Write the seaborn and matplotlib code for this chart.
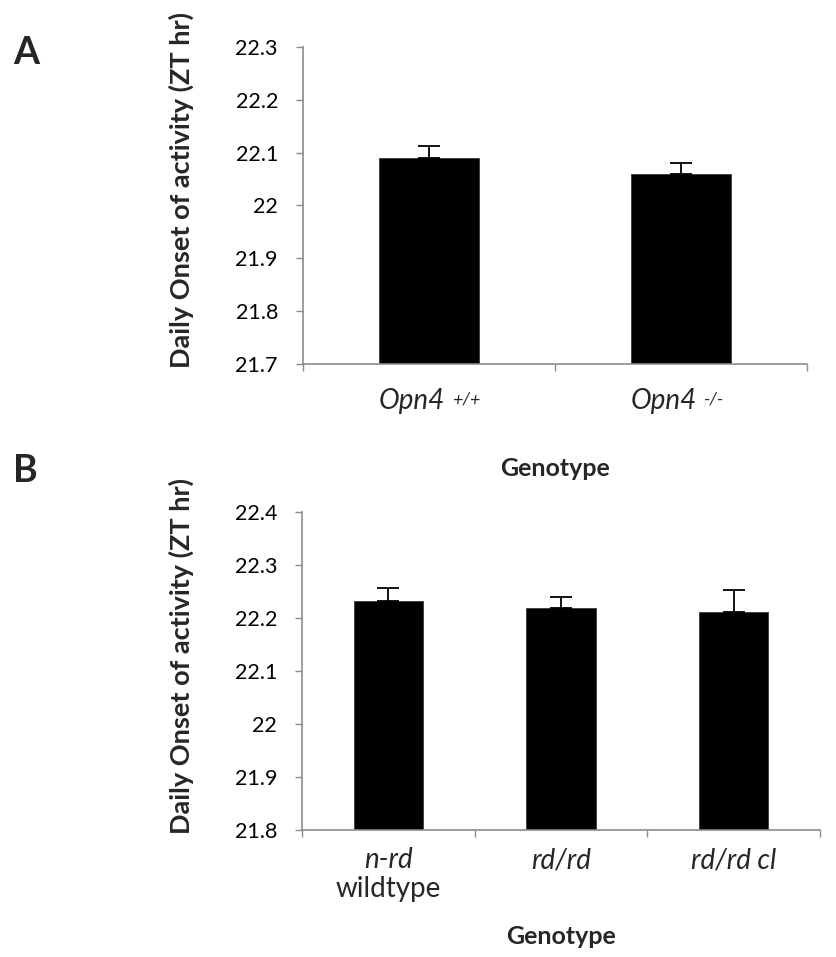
import matplotlib
matplotlib.use('Agg')
import matplotlib.pyplot as plt
import seaborn as sns
import pandas as pd
import numpy as np
from matplotlib.ticker import FixedLocator
from matplotlib.transforms import blended_transform_factory

sns.set_style('white')
plt.rcParams['font.family'] = ['Lato', 'DejaVu Sans']

# ---------------- data ----------------
a_genotypes = ['Opn4', 'Opn4']
a_superscripts = ['+/+', '-/-']
a_onset = [22.090, 22.059]
a_sem = [0.023, 0.021]
a_yticks = [21.7, 21.8, 21.9, 22.0, 22.1, 22.2, 22.3]
a_yticklabels = ['21.7', '21.8', '21.9', '22', '22.1', '22.2', '22.3']

b_genotypes = ['n-rd', 'rd/rd', 'rd/rd cl']
b_sublabels = ['wildtype', '', '']
b_onset = [22.232, 22.218, 22.211]
b_sem = [0.024, 0.021, 0.042]
b_yticks = [21.8, 21.9, 22.0, 22.1, 22.2, 22.3, 22.4]
b_yticklabels = ['21.8', '21.9', '22', '22.1', '22.2', '22.3', '22.4']

ylabel = 'Daily Onset of activity (ZT hr)'
xlabel = 'Genotype'

W, H = 836, 957
fig = plt.figure(figsize=(W / 100, H / 100), dpi=100)
GRAY = '#8c8c8c'


def px(v):
    return v * 72 / 100  # pixels -> points


def draw_panel(ax, cats, vals, errs, yticks, yticklabels):
    df = pd.DataFrame({'cat': [f'{c}_{i}' for i, c in enumerate(cats)], 'val': vals})
    sns.barplot(data=df, x='cat', y='val', color='black', saturation=1,
                width=0.4, errorbar=None, ax=ax, edgecolor='#3a3a3a', linewidth=0.6)
    for p, v, e in zip(ax.patches, vals, errs):
        cx = p.get_x() + p.get_width() / 2
        ax.errorbar(cx, v, yerr=[[0], [e]], fmt='none', ecolor='black',
                    elinewidth=1.3, capsize=px(11), capthick=1.3, zorder=3)
    n = len(cats)
    ax.set_xlim(-0.5, n - 0.5)
    ax.set_ylim(yticks[0], yticks[-1])
    ax.set_yticks(yticks, labels=yticklabels)
    ax.set_xticks(range(n), labels=[''] * n)
    ax.xaxis.set_minor_locator(FixedLocator(np.arange(n + 1) - 0.5))
    ax.tick_params(axis='x', which='major', length=0)
    ax.tick_params(axis='x', which='minor', bottom=True, length=px(7),
                   width=1.0, color=GRAY, direction='out')
    ax.tick_params(axis='y', left=True, length=px(7), width=1.0, color=GRAY,
                   direction='out', pad=px(18), labelsize=15.5, labelcolor='black')
    for s in ['top', 'right']:
        ax.spines[s].set_visible(False)
    for s in ['left', 'bottom']:
        ax.spines[s].set_color(GRAY)
        ax.spines[s].set_linewidth(1.2)
    ax.set_xlabel('')
    ax.set_ylabel('')
    return [p.get_x() + p.get_width() / 2 for p in ax.patches]


# ---------------- Panel A ----------------
axA = fig.add_axes([303 / W, 1 - 364 / H, 504 / W, 317 / H])
centersA = draw_panel(axA, a_genotypes, a_onset, a_sem, a_yticks, a_yticklabels)
trA = blended_transform_factory(axA.transData, axA.transAxes)
for cx, g, sup in zip(centersA, a_genotypes, a_superscripts):
    main = axA.annotate(g, xy=(cx, 0), xycoords=trA, xytext=(px(-50), px(-45)),
                        textcoords='offset points', ha='left', va='baseline',
                        fontsize=20, style='italic')
    axA.annotate(sup, xy=(1, 1), xycoords=main, xytext=(px(7), px(-3)),
                 textcoords='offset points', ha='left', va='top',
                 fontsize=13, style='italic')

# ---------------- Panel B ----------------
axB = fig.add_axes([302 / W, 1 - 830 / H, 518 / W, 318 / H])
centersB = draw_panel(axB, b_genotypes, b_onset, b_sem, b_yticks, b_yticklabels)
trB = blended_transform_factory(axB.transData, axB.transAxes)
for cx, g, sub in zip(centersB, b_genotypes, b_sublabels):
    axB.annotate(g, xy=(cx, 0), xycoords=trB, xytext=(0, px(-38)),
                 textcoords='offset points', ha='center', va='baseline',
                 fontsize=20, style='italic')
    if sub:
        axB.annotate(sub, xy=(cx, 0), xycoords=trB, xytext=(0, px(-67)),
                     textcoords='offset points', ha='center', va='baseline',
                     fontsize=20)

# ---------------- labels ----------------
fig.text(555 / W, 1 - 476 / H, xlabel, ha='center', va='baseline',
         fontsize=18, fontweight='bold')
fig.text(561 / W, 1 - 944 / H, xlabel, ha='center', va='baseline',
         fontsize=18, fontweight='bold')
fig.text(181 / W, 1 - 190 / H, ylabel, ha='center', va='center',
         rotation=90, fontsize=19.5, fontweight='bold')
fig.text(181 / W, 1 - 656 / H, ylabel, ha='center', va='center',
         rotation=90, fontsize=19.5, fontweight='bold')
fig.text(26 / W, 1 - 53 / H, 'A', ha='center', va='center',
         fontsize=27, fontweight='bold')
fig.text(25 / W, 1 - 471 / H, 'B', ha='center', va='center',
         fontsize=27, fontweight='bold')

fig.savefig('out.png', dpi=100)
